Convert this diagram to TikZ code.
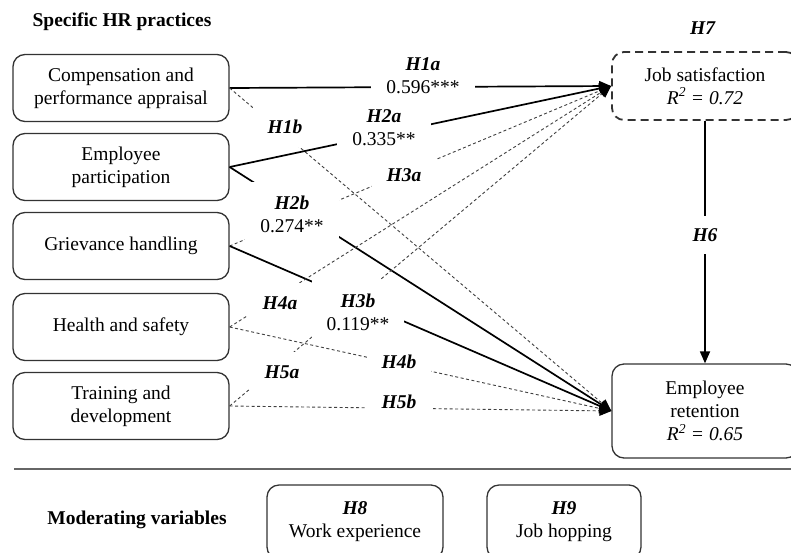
\documentclass[tikz,border=0pt]{standalone}
\usepackage{fontspec}
\setmainfont{Liberation Serif}
\usetikzlibrary{arrows.meta}
\newcommand{\hrfont}{\fontsize{19.5}{23}\selectfont}
\newcommand{\hyp}[1]{\textbf{\textit{#1}}}
\tikzstyle{practice}=[draw=black!80, line width=1.3pt, rounded corners=12pt, minimum width=216pt, minimum height=67pt, inner sep=0, align=center]
\tikzstyle{outcome}=[practice, minimum width=186pt, minimum height=68pt]
\tikzstyle{dashedbox}=[dash pattern=on 8pt off 5pt, line width=1.8pt]
\tikzstyle{moderator}=[practice, minimum height=74pt]
\tikzstyle{effect}=[line width=1.7pt, -{Triangle[length=12pt, width=10pt]}]
\tikzstyle{noeffect}=[line width=0.9pt, draw=black!75, dash pattern=on 3pt off 2.5pt, -{Triangle[length=12pt, width=10pt, black]}]
\tikzstyle{hlabel}=[fill=white, align=center, inner xsep=15pt, inner ysep=13.5pt]
\tikzstyle{hrmodel}=[x=1pt, y=-1pt, font=\hrfont,
                     % white paper behind everything
                     execute at begin picture={\fill[white] (0,0) rectangle (791,552);}]
\begin{document}
\begin{tikzpicture}[hrmodel]
        \useasboundingbox (0,0) rectangle (791,552);
        \node (T1) at (122,22) {\bfseries Specific HR practices};
        \node (T2) at (137,520) {\bfseries Moderating variables};
        % HR practices
        \node[practice] (P1) at (121,88)  {Compensation and\\performance appraisal};
        \node[practice] (P2) at (121,167) {Employee\\participation};
        \node[practice] (P3) at (121,246) {Grievance handling};
        \node[practice] (P4) at (121,327) {Health and safety};
        \node[practice] (P5) at (121,406) {Training and\\development};
        % outcomes
        \node[outcome, dashedbox] (JS) at (705,86) {Job satisfaction\\\textit{R\textsuperscript{2} = 0.72}};
        \node[outcome, minimum height=94pt] (ER) at (705,411) {Employee\\retention\\\textit{R\textsuperscript{2} = 0.65}};
        % moderators
        \node[moderator, minimum width=176pt] (M1) at (355,522) {\hyp{H8}\\Work experience};
        \node[moderator, minimum width=154pt] (M2) at (564,522) {\hyp{H9}\\Job hopping};
        \draw[line width=1.3pt, black!60] (14,469) -- (791,469);
        % paths
        \draw[effect]   (P1.east) -- (JS.west);
        \draw[noeffect] (P1.east) -- (ER.west);
        \draw[effect]   (P2.east) -- (JS.west);
        \draw[effect]   (P2.east) -- (ER.west);
        \draw[noeffect] (P3.east) -- (JS.west);
        \draw[effect]   (P3.east) -- (ER.west);
        \draw[noeffect] (P4.east) -- (JS.west);
        \draw[noeffect] (P4.east) -- (ER.west);
        \draw[noeffect] (P5.east) -- (JS.west);
        \draw[noeffect] (P5.east) -- (ER.west);
        \draw[effect]   (JS.south) -- (ER.north);
        % hypothesis labels
        \node[hlabel] (L1a) at (423,76)  {\hyp{H1a}\\0.596***};
        \node[hlabel] (L1b) at (285,127) {\hyp{H1b}};
        \node[hlabel] (L2a) at (384,128) {\hyp{H2a}\\0.335**};
        \node[hlabel] (L2b) at (292,214) {\hyp{H2b}\\0.274**};
        \node[hlabel] (L3a) at (404,175) {\hyp{H3a}};
        \node[hlabel] (L3b) at (358,312) {\hyp{H3b}\\0.119**};
        \node[hlabel] (L4a) at (280,303) {\hyp{H4a}};
        \node[hlabel] (L4b) at (399,362) {\hyp{H4b}};
        \node[hlabel] (L5a) at (282,372) {\hyp{H5a}};
        \node[hlabel] (L5b) at (399,402) {\hyp{H5b}};
        \node[hlabel, inner ysep=12.5pt] (L6) at (705,235) {\hyp{H6}};
        \node (L7) at (703,28) {\hyp{H7}};
    \end{tikzpicture}
\end{document}
